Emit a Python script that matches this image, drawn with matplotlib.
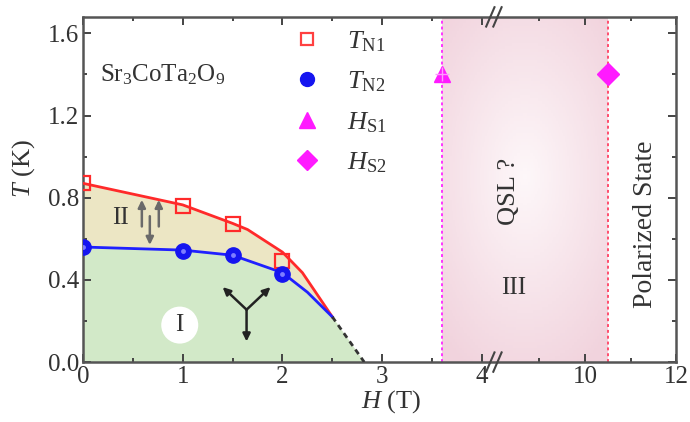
import numpy as np
import matplotlib
matplotlib.use("Agg")
import matplotlib.pyplot as plt
from matplotlib.lines import Line2D
from matplotlib.colors import LinearSegmentedColormap

plt.rcParams['font.family'] = ['Liberation Serif', 'DejaVu Serif']
plt.rcParams['mathtext.fontset'] = 'custom'
plt.rcParams['mathtext.rm'] = 'Liberation Serif'
plt.rcParams['mathtext.it'] = 'Liberation Serif:italic'
plt.rcParams['mathtext.bf'] = 'Liberation Serif:bold'

# ---- measured transition points ----
h_n = [0.0, 1.0, 1.5, 2.0]
t_n1 = [0.87, 0.76, 0.67, 0.49]
t_n2 = [0.56, 0.54, 0.52, 0.43]
h_s1 = [3.6]
h_s2 = [10.5]
t_s = [1.40]

# ---- guide-to-the-eye phase boundaries ----
h_b1 = [0.0, 1.0, 1.5, 1.65, 2.0, 2.2, 2.5]
t_b1 = [0.87, 0.765, 0.675, 0.645, 0.535, 0.435, 0.22]
h_b2 = [0.0, 1.0, 1.5, 2.0, 2.25, 2.5]
t_b2 = [0.56, 0.545, 0.52, 0.435, 0.34, 0.22]
h_ext = [2.5, 2.82]
t_ext = [0.22, 0.0]

x_major = [0, 1, 2, 3, 4, 10, 12]
x_minor = [0.5, 1.5, 2.5, 3.5, 9, 11]
y_major = [0.0, 0.4, 0.8, 1.2, 1.6]
y_minor = [0.2, 0.6, 1.0, 1.4]

# broken field axis: 0..4.12 linear, then 8..12 compressed
BRK, HI0, SQ = 4.12, 8.0, 0.457


def fwd(x):
    x = np.asarray(x, float)
    return np.where(x <= BRK, x, BRK + (x - HI0) * SQ)


def inv(u):
    u = np.asarray(u, float)
    return np.where(u <= BRK, u, HI0 + (u - BRK) / SQ)


fig = plt.figure(figsize=(6.9, 4.22), dpi=100)
ax = fig.add_axes([0.1203, 0.142, 0.8597, 0.818])
ax.set_xscale('function', functions=(fwd, inv))
ax.set_xlim(0, 12)
ax.set_ylim(0, 1.68)

# phase I / II shading
h_I = np.concatenate([h_b2, h_ext[1:]])
t_I = np.concatenate([t_b2, t_ext[1:]])
ax.fill_between(h_I, 0, t_I, color='#d2e9c8', lw=0, zorder=1)
t_b2_on_b1 = np.interp(h_b1, h_b2, t_b2)
ax.fill_between(h_b1, t_b2_on_b1, t_b1, color='#ece6c4', lw=0, zorder=1)

# phase III: soft pink region between the two saturation fields
u_edges = np.linspace(fwd(h_s1[0]), fwd(h_s2[0]), 120)
x_edges = inv(u_edges)
y_edges = np.linspace(0, 1.68, 120)
uc = 0.5 * (u_edges[:-1] + u_edges[1:])
yc = 0.5 * (y_edges[:-1] + y_edges[1:])
UU, YY = np.meshgrid(uc, yc)
u0, y0 = 0.5 * (u_edges[0] + u_edges[-1]), 0.9
r = np.sqrt(((UU - u0) / 1.2) ** 2 + ((YY - y0) / 1.05) ** 2)
pink = LinearSegmentedColormap.from_list('pk', ['#fdf7f9', '#f1d3dd'])
ax.pcolormesh(x_edges, y_edges, np.clip(r, 0, 1), cmap=pink, vmin=0, vmax=1,
              shading='flat', zorder=0.5, rasterized=True)
ax.axvline(h_s1[0], color='#ff33ff', ls=(0, (1.5, 1.5)), lw=1.4, zorder=2)
ax.axvline(h_s2[0], color='#ff4d6d', ls=(0, (1.5, 1.5)), lw=1.4, zorder=2)

# boundaries
ax.plot(h_b1, t_b1, color='#ff2a2a', lw=2.0, zorder=3)
ax.plot(h_b2, t_b2, color='#2020ff', lw=2.0, zorder=3)
ax.plot(h_ext, t_ext, color='#333333', lw=2.0, ls=(0, (2, 1.6)), zorder=3)

# data points
ax.plot(h_n, t_n1, ls='none', marker='s', ms=10, mfc='none', mec='#ff2a2a',
        mew=1.6, zorder=4)
ax.plot(h_n, t_n2, ls='none', marker='o', ms=11, mfc='#1515f0', mec='#1515f0',
        zorder=4)
ax.plot(h_n, t_n2, ls='none', marker='o', ms=3.5, mfc='#7d7dff', mec='none',
        zorder=5)
ax.plot(h_s1, t_s, ls='none', marker='^', ms=12, mfc='#ff1aff', mec='#ff1aff',
        zorder=4)
ax.plot(h_s1, t_s, ls='none', marker='+', ms=10, mew=1.0, mec='#ff99ff',
        zorder=5)
ax.plot(h_s2, t_s, ls='none', marker='D', ms=11, mfc='#ff1aff', mec='#ff1aff',
        zorder=4)

# spin arrows
arw = dict(arrowstyle='-|>,head_length=0.45,head_width=0.22', lw=1.8,
           color='#222222', shrinkA=0, shrinkB=0)
arw_g = dict(arw, color='#6a6a6a')
for hx in (0.59, 0.76):
    ax.annotate('', xy=(hx, 0.79), xytext=(hx, 0.66), arrowprops=arw_g, zorder=6)
ax.annotate('', xy=(0.67, 0.57), xytext=(0.67, 0.71), arrowprops=arw_g, zorder=6)
yc0 = (1.64, 0.255)
for tip in [(1.40, 0.365), (1.88, 0.365), (1.64, 0.10)]:
    ax.annotate('', xy=tip, xytext=yc0, arrowprops=arw, zorder=6)

# labels inside the diagram
txt = dict(color='#333333', zorder=7)
ax.text(0.17, 1.40, r'Sr$_3$CoTa$_2$O$_9$', fontsize=18, ha='left', va='center',
        **txt)
ax.text(0.38, 0.70, 'II', fontsize=18, ha='center', va='center', **txt)
ax.text(0.97, 0.18, 'I', fontsize=18, ha='center', va='center',
        bbox=dict(boxstyle='circle,pad=0.3', fc='white', ec='none'), **txt)
ax.text(8.44, 0.36, 'III', fontsize=18, ha='center', va='center', **txt)
ax.text(8.33, 0.83, 'QSL ?', fontsize=19, rotation=90, ha='center',
        va='center', **txt)
ax.text(11.33, 0.67, 'Polarized State', fontsize=20, rotation=90,
        ha='center', va='center', **txt)

# legend
handles = [
    Line2D([], [], ls='none', marker='s', ms=9, mfc='white', mec='#ff4040', mew=1.6),
    Line2D([], [], ls='none', marker='o', ms=10, mfc='#1515f0', mec='#1515f0'),
    Line2D([], [], ls='none', marker='^', ms=12, mfc='#ff1aff', mec='#ff1aff'),
    Line2D([], [], ls='none', marker='D', ms=10, mfc='#ff1aff', mec='#ff1aff'),
]
labels = [r'$T_{\mathrm{N1}}$', r'$T_{\mathrm{N2}}$', r'$H_{\mathrm{S1}}$',
          r'$H_{\mathrm{S2}}$']
leg = ax.legend(handles, labels, loc='upper left', bbox_to_anchor=(0.338, 0.995),
                frameon=False, fontsize=19, handlelength=1.0,
                handletextpad=1.0, labelspacing=0.6, borderaxespad=0)
for t in leg.get_texts():
    t.set_color('#333333')

# axes styling
ax.set_xticks(x_major)
ax.set_xticklabels([str(v) for v in x_major])
ax.set_xticks(x_minor, minor=True)
ax.set_yticks(y_major)
ax.set_yticklabels([f'{v:.1f}' for v in y_major])
ax.set_yticks(y_minor, minor=True)
ax.tick_params(which='both', direction='in', top=True, right=True,
               color='#444444', width=1.4, labelsize=18, labelcolor='#333333')
ax.tick_params(which='major', length=6, pad=3)
ax.tick_params(which='minor', length=3)
for s in ax.spines.values():
    s.set_color('#555555')
    s.set_linewidth(1.8)

ax.set_xlabel(r'$H$ (T)', fontsize=19, color='#333333')
ax.set_ylabel(r'$T$ (K)', fontsize=19, color='#333333')
ax.xaxis.set_label_coords(0.52, -0.077, transform=ax.transAxes)
ax.yaxis.set_label_coords(-0.077, 0.56, transform=ax.transAxes)
ax.xaxis.label.set_va('top')

# axis-break marks
xf = BRK / float(fwd(12))
for yb in (0.0, 1.0):
    for dx in (-0.006, 0.006):
        ax.plot([xf + dx - 0.007, xf + dx + 0.007], [yb - 0.028, yb + 0.028],
                transform=ax.transAxes, color='#444444', lw=1.5,
                clip_on=False, zorder=8)

fig.savefig('out.png', dpi=100)
